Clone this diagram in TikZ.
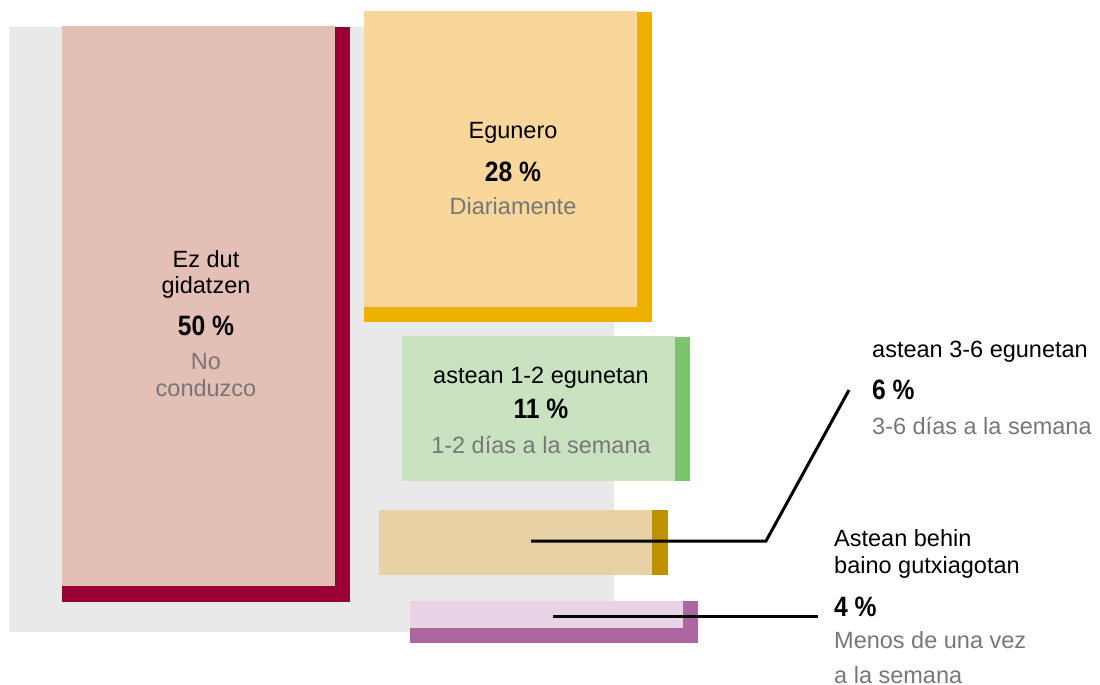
\documentclass[tikz,border=0pt]{standalone}
\usepackage{fontspec}
\setmainfont{Liberation Sans}
\newfontfamily\pctfont[FakeStretch=0.88]{Liberation Sans}
\definecolor{bggray}{HTML}{E9E9E9}
\definecolor{redL}{HTML}{E3BFB6}
\definecolor{redD}{HTML}{990033}
\definecolor{yelL}{HTML}{F9D79B}
\definecolor{yelD}{HTML}{F0B000}
\definecolor{grnL}{HTML}{C9E3C1}
\definecolor{grnD}{HTML}{7DC46E}
\definecolor{tanL}{HTML}{E8D2A5}
\definecolor{tanD}{HTML}{BD9100}
\definecolor{purL}{HTML}{E8D4E6}
\definecolor{purD}{HTML}{AE66A0}
\definecolor{txtgray}{HTML}{777777}
\tikzset{
  lbl/.style={anchor=base, inner sep=0pt, font=\fontsize{23.5}{28}\selectfont, text=black},
  pct/.style={anchor=base, inner sep=0pt, font=\pctfont\fontsize{28}{32}\selectfont\bfseries, text=black},
  sub/.style={anchor=base, inner sep=0pt, font=\fontsize{23.5}{28}\selectfont, text=txtgray},
  lblL/.style={lbl, anchor=base west},
  pctL/.style={pct, anchor=base west},
  subL/.style={sub, anchor=base west},
  leader/.style={draw=black, line width=3pt},
  leaderthin/.style={draw=black, line width=2.5pt}
}
\begin{document}
\begin{tikzpicture}[x=1pt,y=-1pt]
\useasboundingbox (0,0) rectangle (1100,685);
% background
\fill[bggray] (9,27) rectangle (614,632);
% red block
\fill[redD] (62,27) rectangle (350,602);
\fill[redL] (62,26) rectangle (335,586);
% yellow block
\fill[yelD] (364,12) rectangle (652,322);
\fill[yelL] (364,11) rectangle (637,307);
% green block
\fill[grnD] (675,337) rectangle (690,481);
\fill[grnL] (402,336) rectangle (675,481);
% tan block
\fill[tanD] (652,510) rectangle (668,575);
\fill[tanL] (379,510) rectangle (652,575);
% purple block
\fill[purD] (410,601) rectangle (698,643);
\fill[purL] (410,601) rectangle (683,628);

% red texts
\node[lbl] (r1) at (206,267) {Ez dut};
\node[lbl] (r2) at (206,293) {gidatzen};
\node[pct] (r3) at (206,335) {50 \%};
\node[sub] (r4) at (206,369) {No};
\node[sub] (r5) at (206,396) {conduzco};
% yellow texts
\node[lbl] (y1) at (513,138) {Egunero};
\node[pct] (y2) at (513,181) {28 \%};
\node[sub] (y3) at (513,214) {Diariamente};
% green texts
\node[lbl] (g1) at (541,383) {astean 1-2 egunetan};
\node[pct] (g2) at (541,418) {11 \%};
\node[sub] (g3) at (541,453) {1-2 días a la semana};
% right label 6%
\node[lblL] (t1) at (872,357) {astean 3-6 egunetan};
\node[pctL] (t2) at (872,399) {6 \%};
\node[subL] (t3) at (872,434) {3-6 días a la semana};
% right label 4%
\node[lblL] (p1) at (834,546) {Astean behin};
\node[lblL] (p2) at (834,573) {baino gutxiagotan};
\node[pctL] (p3) at (834,616) {4 \%};
\node[subL] (p4) at (834,648) {Menos de una vez};
\node[subL] (p5) at (834,683) {a la semana};

% leaders
\coordinate (tanPt) at (531,541);
\coordinate (tanBend) at (766,541);
\coordinate (tanEnd) at (849,390);
\draw[leader] (tanPt) -- (tanBend) -- (tanEnd);
\coordinate (purPt) at (553,616.5);
\coordinate (purEnd) at (818,616.5);
\draw[leaderthin] (purPt) -- (purEnd);
\end{tikzpicture}
\end{document}
